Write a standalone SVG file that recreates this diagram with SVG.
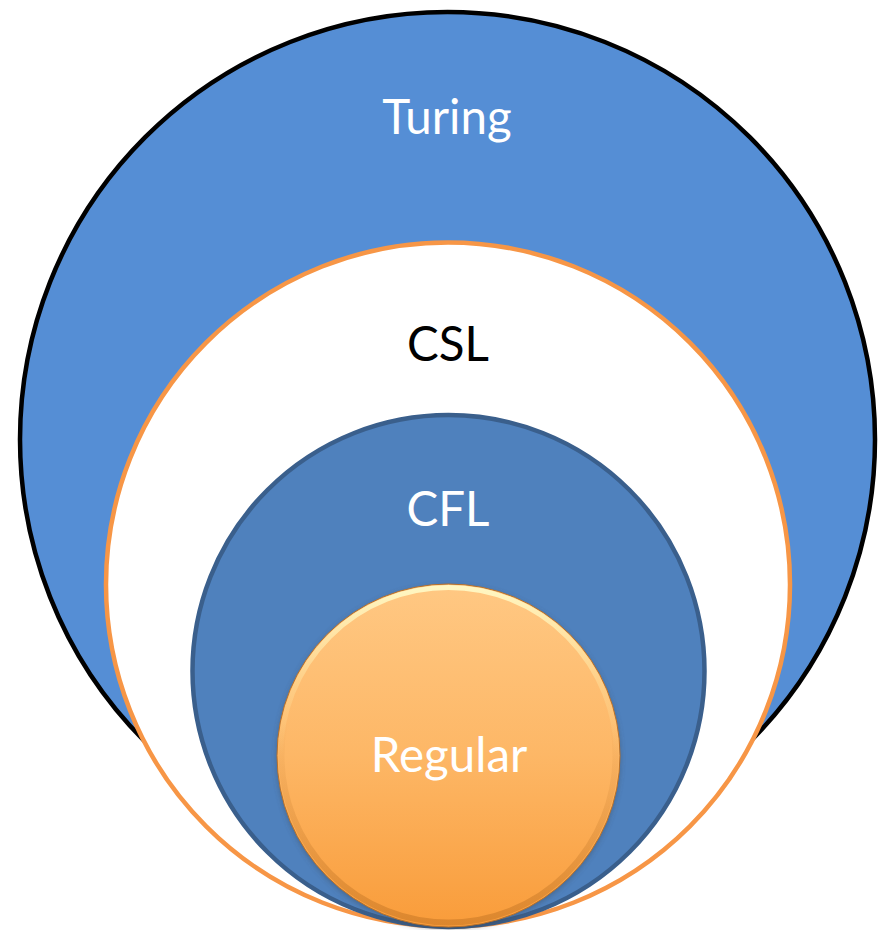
<svg xmlns="http://www.w3.org/2000/svg" width="882" height="930" viewBox="0 0 882 930">
<style>
.lbl{font-family:Lato,"Open Sans","Liberation Sans",sans-serif;text-anchor:middle;font-size:47.5px}
.w{fill:#ffffff}
.k{fill:#000000}
</style>
<defs>
<linearGradient id="regFill" x1="0" y1="0" x2="0" y2="1">
<stop offset="0" stop-color="#FFC883"/>
<stop offset="0.5" stop-color="#FDB766"/>
<stop offset="1" stop-color="#F99C3A"/>
</linearGradient>
<linearGradient id="hl" x1="0" y1="0" x2="0" y2="1">
<stop offset="0" stop-color="#FFF7C2" stop-opacity="1"/>
<stop offset="0.3" stop-color="#FFF0B0" stop-opacity="0.3"/>
<stop offset="0.5" stop-color="#FFF0B0" stop-opacity="0"/>
</linearGradient>
<linearGradient id="dk" x1="0" y1="0" x2="0" y2="1">
<stop offset="0.4" stop-color="#9A5510" stop-opacity="0"/>
<stop offset="1" stop-color="#9A5510" stop-opacity="0.3"/>
</linearGradient>
<filter id="shadow" x="-20%" y="-20%" width="140%" height="140%">
<feGaussianBlur stdDeviation="3"/>
</filter>
</defs>
<rect width="882" height="930" fill="#ffffff"/>
<g id="turing">
<circle cx="447.5" cy="439.5" r="427.5" fill="#558ED5" stroke="#000000" stroke-width="4.5"/>
<text class="lbl w" x="447" y="133.5">Turing</text>
</g>
<g id="csl">
<circle cx="448" cy="584.5" r="342" fill="#ffffff" stroke="#F79646" stroke-width="4.5"/>
<text class="lbl k" x="448" y="361">CSL</text>
</g>
<g id="cfl">
<circle cx="448.5" cy="671" r="256" fill="#4F81BD" stroke="#3A5F8C" stroke-width="4.5"/>
<text class="lbl w" x="448" y="526">CFL</text>
</g>
<g id="regular">
<circle cx="448.5" cy="757.5" r="171" fill="#3a3a3a" opacity="0.45" filter="url(#shadow)"/>
<circle cx="448.5" cy="755.5" r="171.5" fill="url(#regFill)" stroke="#B8712A" stroke-width="1"/>
<circle cx="448.5" cy="755.5" r="168" fill="none" stroke="url(#hl)" stroke-width="5"/>
<circle cx="448.5" cy="755.5" r="167" fill="none" stroke="url(#dk)" stroke-width="6"/>
<text class="lbl w" x="449" y="771.5">Regular</text>
</g>
<g id="connectors"/>
</svg>
